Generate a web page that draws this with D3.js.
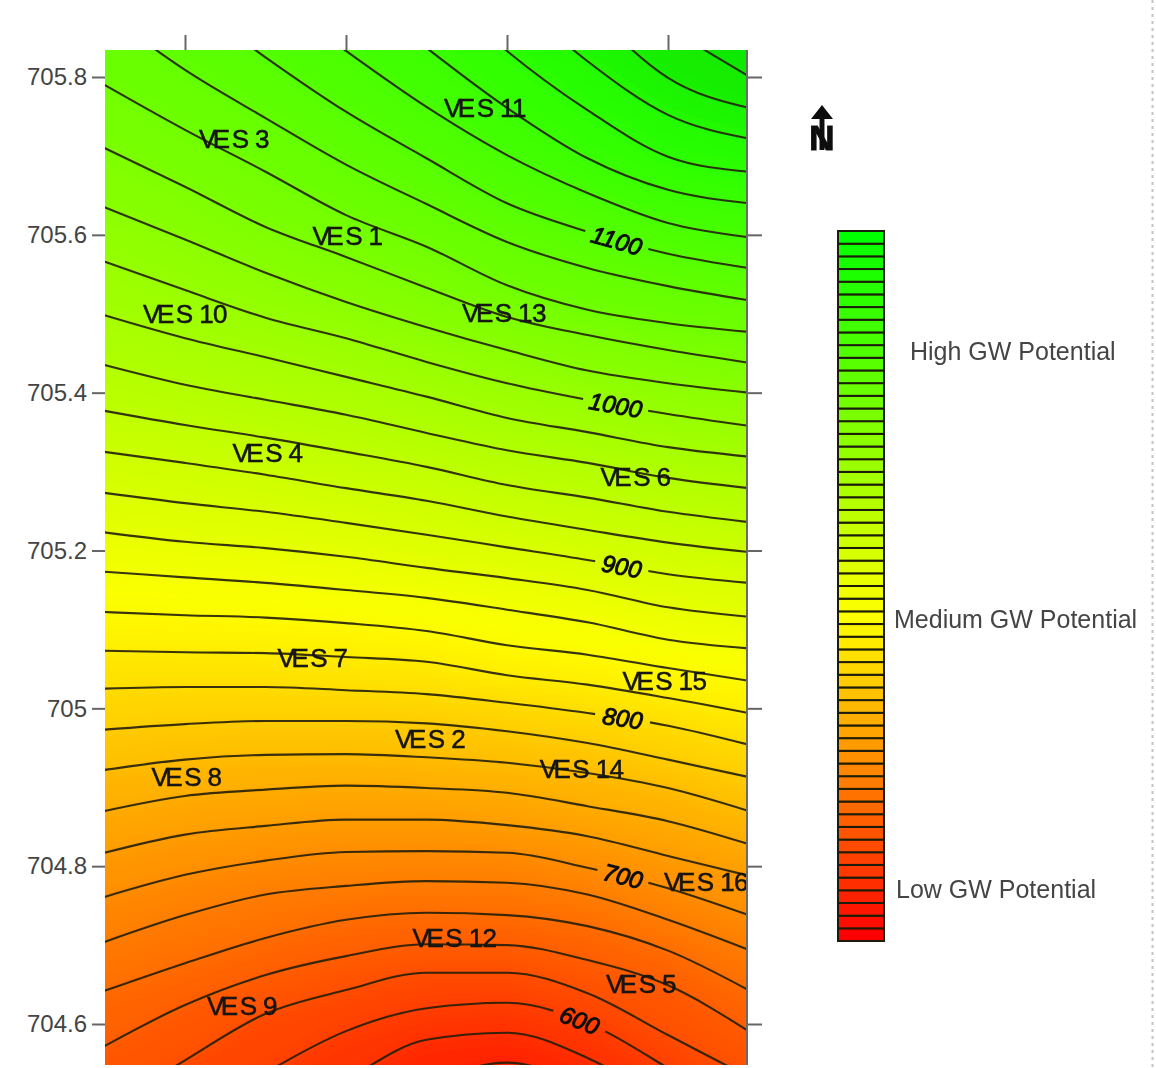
<!DOCTYPE html>
<html>
<head>
<meta charset="utf-8">
<title>GW potential contour map</title>
<script src="https://cdn.jsdelivr.net/npm/d3@7"></script>
<style>
    html, body { margin: 0; padding: 0; background: #fff; }
    svg { display: block; }
    text { font-family: "Liberation Sans", Arial, sans-serif; }
</style>
</head>
<body>
<svg id="chart" width="1156" height="1068"></svg>
<script>
// sample columns along the map, in top tick units (tick marks sit on 1, 2, 3, 4)
var columns = [0.5, 1, 1.5, 2, 2.5, 3, 3.5, 4, 4.5];
var northTicks = [704.6, 704.8, 705, 705.2, 705.4, 705.6, 705.8];
var eastTicks = [1, 2, 3, 4];

// contour levels, and the northing of each one at every column
var levels = [1220, 1200, 1180, 1160, 1140, 1120, 1100, 1080, 1060, 1040, 1020, 1000, 980, 960, 940, 920, 900, 880, 860, 840, 820, 800, 780, 760, 740, 720, 700, 680, 660, 640, 620, 600, 580, 560];
var northing = [
    [null, null, null, null, null, null, null, 705.862, 705.801],
    [null, null, null, null, null, null, 705.890, 705.799, 705.761],
    [null, null, null, null, null, 705.908, 705.820, 705.752, 705.722],
    [null, null, null, null, 705.926, 705.833, 705.758, 705.699, 705.680],
    [null, null, null, 705.919, 705.837, 705.761, 705.697, 705.657, 705.640],
    [null, null, 705.909, 705.833, 705.762, 705.701, 705.653, 705.615, 705.597],
    [null, 705.900, 705.825, 705.756, 705.697, 705.640, 705.604, 705.576, 705.558],
    [705.882, 705.809, 705.748, 705.689, 705.639, 705.591, 705.558, 705.535, 705.517],
    [705.790, 705.733, 705.680, 705.625, 705.585, 705.536, 705.505, 705.488, 705.477],
    [705.710, 705.661, 705.610, 705.572, 705.533, 705.496, 705.473, 705.454, 705.438],
    [705.635, 705.594, 705.552, 705.515, 705.483, 705.454, 705.428, 705.412, 705.400],
    [705.566, 705.530, 705.495, 705.469, 705.439, 705.412, 705.391, 705.373, 705.358],
    [705.498, 705.469, 705.445, 705.420, 705.395, 705.368, 705.350, 705.331, 705.319],
    [705.435, 705.410, 705.391, 705.372, 705.349, 705.327, 705.311, 705.292, 705.279],
    [705.377, 705.359, 705.343, 705.325, 705.306, 705.283, 705.267, 705.249, 705.236],
    [705.325, 705.311, 705.296, 705.279, 705.263, 705.243, 705.226, 705.210, 705.198],
    [705.273, 705.260, 705.249, 705.235, 705.220, 705.204, 705.188, 705.170, 705.159],
    [705.223, 705.211, 705.203, 705.192, 705.178, 705.165, 705.150, 705.128, 705.116],
    [705.173, 705.166, 705.159, 705.150, 705.140, 705.125, 705.109, 705.087, 705.076],
    [705.122, 705.118, 705.115, 705.108, 705.098, 705.080, 705.068, 705.051, 705.035],
    [705.073, 705.071, 705.070, 705.065, 705.059, 705.042, 705.030, 705.013, 704.994],
    [705.025, 705.027, 705.027, 705.023, 705.018, 705.007, 704.994, 704.978, 704.954],
    [704.973, 704.980, 704.984, 704.984, 704.981, 704.971, 704.956, 704.935, 704.913],
    [704.922, 704.935, 704.941, 704.942, 704.938, 704.931, 704.918, 704.899, 704.870],
    [704.870, 704.889, 704.897, 704.902, 704.899, 704.893, 704.876, 704.857, 704.828],
    [704.817, 704.840, 704.851, 704.859, 704.859, 704.852, 704.838, 704.813, 704.788],
    [704.761, 704.789, 704.807, 704.818, 704.819, 704.817, 704.798, 704.772, 704.738],
    [704.704, 704.738, 704.764, 704.775, 704.781, 704.779, 704.764, 704.732, 704.694],
    [704.642, 704.677, 704.709, 704.732, 704.741, 704.738, 704.724, 704.693, 704.643],
    [704.572, 704.624, 704.662, 704.686, 704.701, 704.700, 704.681, 704.649, 704.591],
    [704.491, 704.554, 704.613, 704.643, 704.665, 704.665, 704.639, 704.586, 704.533],
    [null, 704.472, 704.538, 704.591, 704.620, 704.627, 704.601, 704.544, 704.478],
    [null, null, 704.466, 704.529, 704.580, 704.589, 704.557, 704.497, null],
    [null, null, null, null, 704.523, 704.551, 704.516, null, null]
];

// labelled contours and the stretch of each line that is left open for its label
var labelLevels = [1100, 1000, 900, 800, 700, 600];
var gapStart = [3.484, 3.472, 3.547, 3.547, 3.559, 3.286];
var gapEnd = [3.876, 3.876, 3.876, 3.888, 3.876, 3.609];

// survey points
var siteNames = ["VES 3", "VES 11", "VES 1", "VES 10", "VES 13", "VES 4", "VES 6", "VES 7", "VES 15", "VES 2", "VES 14", "VES 8", "VES 16", "VES 12", "VES 5", "VES 9"];
var siteEast = [1.304, 2.863, 2.009, 1.0, 2.981, 1.512, 3.798, 1.792, 3.978, 2.522, 3.463, 1.009, 4.236, 2.674, 3.832, 1.354];
var siteNorth = [705.722, 705.761, 705.599, 705.500, 705.502, 705.324, 705.293, 705.064, 705.035, 704.961, 704.924, 704.913, 704.781, 704.710, 704.651, 704.623];

// legend
var legendLevels = [530, 542.5, 555, 567.5, 580, 592.5, 605, 617.5, 630, 642.5, 655, 667.5, 680, 692.5, 705, 717.5, 730, 742.5, 755, 767.5, 780, 792.5, 805, 817.5, 830, 842.5, 855, 867.5, 880, 892.5, 905, 917.5, 930, 942.5, 955, 967.5, 980, 992.5, 1005, 1017.5, 1030, 1042.5, 1055, 1067.5, 1080, 1092.5, 1105, 1117.5, 1130, 1142.5, 1155, 1167.5, 1180, 1192.5, 1205, 1217.5, 1230];
var legendNotes = ["High GW Potential", "Medium GW Potential", "Low GW Potential"];
var legendNoteLevels = [1112, 847, 581];

var svg = d3.select("#chart"),
    plot = {left: 105, right: 747, top: 50, bottom: 1065};

var x = d3.scaleLinear().domain([1, 4]).range([185, 668]),
    y = d3.scaleLinear().domain([704.6, 705.8]).range([1024, 77]);

// the map goes a little darker than the key in its top right corner
var color = d3.scaleLinear()
    .domain([530, 850, 1170, 1230])
    .range(["#ff0000", "#ffff00", "#2aff00", "#0ce800"]);
var keyColor = d3.scaleLinear()
    .domain([530, 850, 1230])
    .range(["#ff0000", "#ffff00", "#00ff00"]);

var defs = svg.append("defs");
defs.append("clipPath").attr("id", "plot-clip")
    .append("rect")
    .attr("x", plot.left).attr("y", plot.top)
    .attr("width", plot.right - plot.left).attr("height", plot.bottom - plot.top);

var smooth = defs.append("filter").attr("id", "smooth")
    .attr("filterUnits", "userSpaceOnUse")
    .attr("x", -100).attr("y", -200).attr("width", 1400).attr("height", 1500);
smooth.append("feGaussianBlur").attr("stdDeviation", 11);

var soft = defs.append("filter").attr("id", "soft")
    .attr("filterUnits", "userSpaceOnUse")
    .attr("x", 0).attr("y", 0).attr("width", 1156).attr("height", 1068);
soft.append("feGaussianBlur").attr("stdDeviation", 0.5);

// one list of [east, north] points for each contour
var contours = levels.map(function (level, i) {
    var points = [];
    northing[i].forEach(function (n, j) {
        if (n !== null) points.push([columns[j], n]);
    });
    return {level: level, points: points};
});

var line = d3.line()
    .x(function (d) { return x(d[0]); })
    .y(function (d) { return y(d[1]); })
    .curve(d3.curveMonotoneX);

// colour: paint each level's ground from the highest down, then blur the steps away
var clipped = svg.append("g").attr("clip-path", "url(#plot-clip)");
var ground = clipped.append("g").attr("filter", "url(#smooth)");

ground.append("rect")
    .attr("x", plot.left - 80).attr("y", plot.top - 80)
    .attr("width", plot.right - plot.left + 160).attr("height", plot.bottom - plot.top + 160)
    .attr("fill", color(1230));

ground.selectAll(".band")
    .data(contours)
    .enter().append("path")
    .attr("class", "band")
    .attr("fill", function (d) { return color(d.level - 4); })
    .attr("d", function (d) {
        var first = d.points[0], last = d.points[d.points.length - 1];
        var outline = [[-0.5, first[1]]].concat(d.points, [[5.5, last[1]], [5.5, 703.9], [-0.5, 703.9]]);
        return d3.line().x(function (p) { return x(p[0]); }).y(function (p) { return y(p[1]); })(outline);
    });

// contour lines
var lines = clipped.append("g").attr("filter", "url(#soft)");
lines.selectAll(".contour")
    .data(contours)
    .enter().append("path")
    .attr("class", "contour")
    .attr("fill", "none")
    .attr("stroke", "#241f08")
    .attr("stroke-opacity", 0.9)
    .attr("stroke-width", 2.1)
    .attr("d", function (d) { return line(d.points); });

// first point along a path whose x passes the given pixel
function lengthAtX(node, px) {
    var total = node.getTotalLength(), len = 0;
    while (len < total && node.getPointAtLength(len).x < px) len += 0.5;
    return len;
}

// open the labelled contours and set the value along the line
var labels = svg.append("g").attr("filter", "url(#soft)");
lines.selectAll(".contour").each(function (d) {
    var k = labelLevels.indexOf(d.level);
    if (k < 0) return;
    var total = this.getTotalLength(),
        a = lengthAtX(this, x(gapStart[k])),
        b = lengthAtX(this, x(gapEnd[k]));
    d3.select(this).attr("stroke-dasharray", a + " " + (b - a) + " " + total);

    var p0 = this.getPointAtLength(a),
        p1 = this.getPointAtLength(b),
        mid = this.getPointAtLength((a + b) / 2),
        angle = Math.atan2(p1.y - p0.y, p1.x - p0.x) * 180 / Math.PI;

    labels.append("text")
        .attr("transform", "translate(" + mid.x + "," + mid.y + ") rotate(" + angle + ")")
        .attr("text-anchor", "middle")
        .attr("dy", "0.36em")
        .attr("font-size", 24)
        .attr("font-style", "italic")
        .attr("fill", "#111")
        .attr("stroke", "#111")
        .attr("stroke-width", 1)
        .text(d.level);
});

// axes
var axisLeft = svg.append("g")
    .attr("class", "axis")
    .attr("transform", "translate(" + plot.left + ",0)")
    .call(d3.axisLeft(y).tickValues(northTicks).tickSize(13).tickPadding(5).tickFormat(function (d) { return d; }));
var axisRight = svg.append("g")
    .attr("class", "axis")
    .attr("transform", "translate(" + plot.right + ",0)")
    .call(d3.axisRight(y).tickValues(northTicks).tickSize(15).tickFormat(""));
var axisTop = svg.append("g")
    .attr("class", "axis")
    .attr("transform", "translate(0," + plot.top + ")")
    .call(d3.axisTop(x).tickValues(eastTicks).tickSize(15).tickFormat(""));

axisLeft.select(".domain").remove();
axisTop.select(".domain").remove();
axisRight.select(".domain").remove();
svg.selectAll(".axis line").attr("stroke", "#666").attr("stroke-width", 2);
axisLeft.selectAll("text")
    .attr("font-size", 24)
    .attr("fill", "#444")
    .style("font-family", "'Liberation Sans', Arial, sans-serif");

svg.append("line")
    .attr("x1", plot.right).attr("x2", plot.right)
    .attr("y1", plot.top).attr("y2", plot.bottom)
    .attr("stroke", "#6a6a6a").attr("stroke-width", 2);

// survey point labels
var sites = labels.selectAll(".site")
    .data(siteNames)
    .enter().append("text")
    .attr("class", "site")
    .attr("x", function (d, i) { return x(siteEast[i]); })
    .attr("y", function (d, i) { return y(siteNorth[i]); })
    .attr("dy", "0.36em")
    .attr("text-anchor", "middle")
    .attr("font-size", 26)
    .attr("letter-spacing", -0.6)
    .attr("fill", "#141414")
    .attr("stroke", "#141414")
    .attr("stroke-width", 0.5);
sites.append("tspan").attr("letter-spacing", -3.5).text("VE");
sites.append("tspan").attr("dx", 5).text(function (d) { return d.slice(2); });

// legend
var legendY = d3.scaleLinear().domain([530, 1230]).range([941, 231]);
var legend = svg.append("g").attr("filter", "url(#soft)");

legend.selectAll(".cell")
    .data(legendLevels.slice(0, -1))
    .enter().append("rect")
    .attr("class", "cell")
    .attr("x", 838)
    .attr("width", 46)
    .attr("y", function (d, i) { return legendY(legendLevels[i + 1]); })
    .attr("height", function (d, i) { return legendY(d) - legendY(legendLevels[i + 1]); })
    .attr("fill", function (d) { return keyColor(d + 6); })
    .attr("stroke", "#1c1c08")
    .attr("stroke-width", 2);

legend.selectAll(".note")
    .data(legendNotes)
    .enter().append("text")
    .attr("class", "note")
    .attr("x", function (d, i) { return [910, 894, 896][i]; })
    .attr("y", function (d, i) { return legendY(legendNoteLevels[i]); })
    .attr("dy", "0.36em")
    .attr("font-size", 25)
    .attr("fill", "#444")
    .text(function (d) { return d; });

// north arrow
var north = svg.append("g").attr("filter", "url(#soft)");
north.append("path")
    .attr("d", "M822 105 L833 119 L824.5 119 L824.5 150 L819.5 150 L819.5 119 L811 119 Z")
    .attr("fill", "#111");
north.append("text")
    .attr("x", 822).attr("y", 150)
    .attr("text-anchor", "middle")
    .attr("font-size", 35)
    .attr("font-weight", "bold")
    .attr("fill", "#111")
    .attr("stroke", "#111")
    .attr("stroke-width", 1)
    .text("N");

// page edge
svg.append("line")
    .attr("x1", 1152.5).attr("x2", 1152.5)
    .attr("y1", 0).attr("y2", 1068)
    .attr("stroke", "#c4c4c4")
    .attr("stroke-width", 2)
    .attr("stroke-dasharray", "3,4");
</script>
</body>
</html>
